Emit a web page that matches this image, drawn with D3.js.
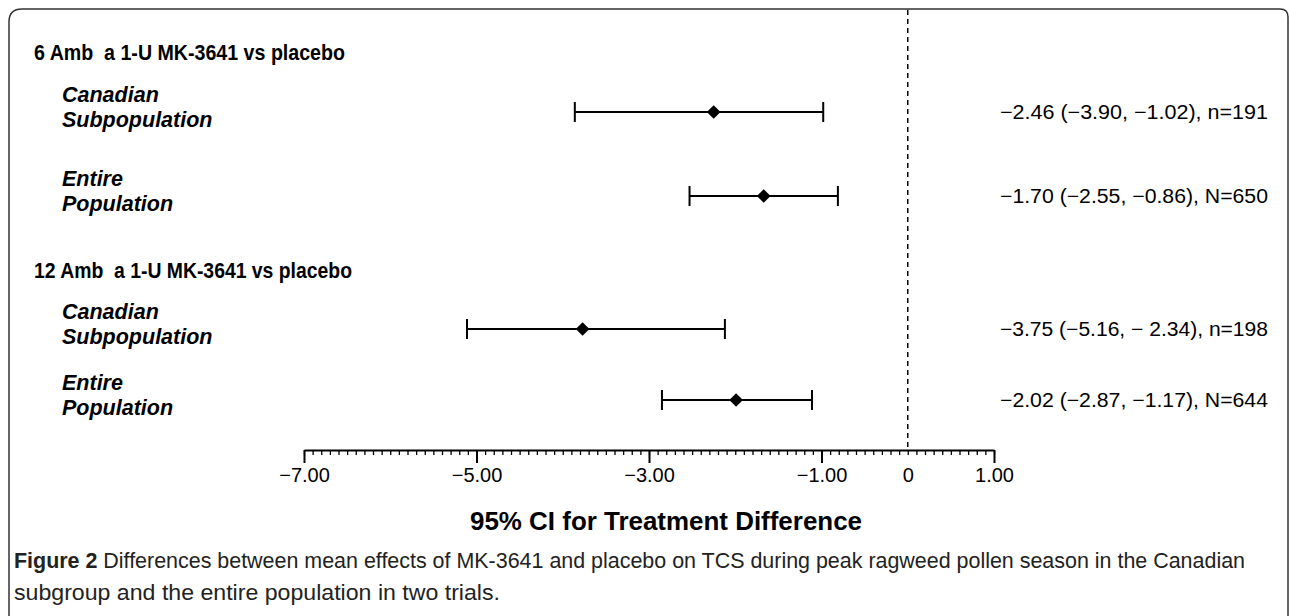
<!DOCTYPE html>
<html>
<head>
<meta charset="utf-8">
<script src="https://cdn.jsdelivr.net/npm/d3@7"></script>
<style>
    body { margin: 0; background: #fff; }
    svg { display: block; font-family: "Liberation Sans", Arial, sans-serif; }
</style>
</head>
<body>
<div id="chart"></div>
<script>
"use strict";

// group headings and rows
var groupTitles = ["6 Amb  a 1-U MK-3641 vs placebo", "12 Amb  a 1-U MK-3641 vs placebo"];
var rowGroups = [0, 0, 1, 1];
var rowNames = [["Canadian", "Subpopulation"], ["Entire", "Population"], ["Canadian", "Subpopulation"], ["Entire", "Population"]];

// plotted positions
var estimates = [-2.25, -1.67, -3.77, -1.99];
var lowers = [-3.86, -2.53, -5.11, -2.85];
var uppers = [-0.98, -0.81, -2.12, -1.11];

// printed result text at the right
var resultLabels = [
    "\u22122.46 (\u22123.90, \u22121.02), n=191",
    "\u22121.70 (\u22122.55, \u22120.86), N=650",
    "\u22123.75 (\u22125.16, \u2212 2.34), n=198",
    "\u22122.02 (\u22122.87, \u22121.17), N=644"
];

var majorTicks = [-7, -5, -3, -1, 1];
var labelTicks = [-7, -5, -3, -1, 0, 1];
var minorTicks = d3.range(-70, 11).map(function(d) { return d / 10; });

var width = 1290;
var height = 616;

var x = d3.scaleLinear().domain([-7, 1]).range([304, 994]);
var rowY = [112, 196, 329, 400];
var titleY = [60, 278];
var titleLen = [311, 318];
var axisY = 450;

var svg = d3.select("#chart")
    .append("svg")
    .attr("width", width)
    .attr("height", height);

// outer frame, open at the bottom
svg.append("path")
    .attr("d", "M9,640 L9,22 Q9,9 22,9 L1280,9 Q1288,9 1288,17 L1288,640")
    .attr("fill", "none")
    .attr("stroke", "#333")
    .attr("stroke-width", 1.5);

// reference line at zero
svg.append("line")
    .attr("x1", x(0)).attr("x2", x(0))
    .attr("y1", 10).attr("y2", axisY)
    .attr("stroke", "#000")
    .attr("stroke-width", 1.5)
    .attr("stroke-dasharray", "5,4");

// group titles
svg.selectAll(".gtitle")
    .data(groupTitles)
    .enter().append("text")
    .attr("class", "gtitle")
    .attr("x", 34)
    .attr("y", function(d, i) { return titleY[i]; })
    .attr("font-size", 22)
    .attr("font-weight", "bold")
    .attr("textLength", function(d, i) { return titleLen[i]; })
    .attr("lengthAdjust", "spacingAndGlyphs")
    .attr("xml:space", "preserve")
    .text(function(d) { return d; });

// row names
var names = svg.selectAll(".rname")
    .data(rowNames)
    .enter().append("text")
    .attr("class", "rname")
    .attr("font-size", 21.5)
    .attr("font-weight", "bold")
    .attr("font-style", "italic");

names.selectAll("tspan")
    .data(function(d, i) { return d.map(function(t, j) { return {t: t, row: i, line: j}; }); })
    .enter().append("tspan")
    .attr("x", 62)
    .attr("y", function(d) { return rowY[d.row] - 10 + d.line * 25; })
    .text(function(d) { return d.t; });

// confidence intervals
var ci = svg.selectAll(".ci")
    .data(estimates)
    .enter().append("g")
    .attr("class", "ci")
    .attr("transform", function(d, i) { return "translate(0," + rowY[i] + ")"; });

ci.append("line")
    .attr("x1", function(d, i) { return x(lowers[i]); })
    .attr("x2", function(d, i) { return x(uppers[i]); })
    .attr("stroke", "#000")
    .attr("stroke-width", 2);

ci.append("line")
    .attr("x1", function(d, i) { return x(lowers[i]); })
    .attr("x2", function(d, i) { return x(lowers[i]); })
    .attr("y1", -10).attr("y2", 10)
    .attr("stroke", "#000")
    .attr("stroke-width", 2);

ci.append("line")
    .attr("x1", function(d, i) { return x(uppers[i]); })
    .attr("x2", function(d, i) { return x(uppers[i]); })
    .attr("y1", -10).attr("y2", 10)
    .attr("stroke", "#000")
    .attr("stroke-width", 2);

ci.append("path")
    .attr("d", d3.symbol().type(d3.symbolDiamond2).size(120))
    .attr("transform", function(d) { return "translate(" + x(d) + ",0)"; })
    .attr("fill", "#000");

// result text
svg.selectAll(".result")
    .data(resultLabels)
    .enter().append("text")
    .attr("class", "result")
    .attr("x", 1000)
    .attr("y", function(d, i) { return rowY[i] + 7; })
    .attr("font-size", 20)
    .attr("textLength", 268)
    .attr("lengthAdjust", "spacingAndGlyphs")
    .attr("xml:space", "preserve")
    .text(function(d) { return d; });

// x axis: minor ticks, major ticks, labels
svg.append("g")
    .attr("transform", "translate(0," + axisY + ")")
    .call(d3.axisBottom(x).tickValues(minorTicks).tickSize(5).tickSizeOuter(0).tickFormat(""))
    .call(function(g) {
        g.selectAll("line").attr("stroke", "#000").attr("stroke-width", 1.3);
        g.select(".domain").attr("stroke", "#000").attr("stroke-width", 2);
    });

svg.append("g")
    .attr("transform", "translate(0," + axisY + ")")
    .call(d3.axisBottom(x).tickValues(majorTicks).tickSize(13).tickSizeOuter(0).tickFormat(""))
    .call(function(g) {
        g.select(".domain").remove();
        g.selectAll("line").attr("stroke", "#000").attr("stroke-width", 2);
    });

svg.append("g")
    .attr("transform", "translate(0," + axisY + ")")
    .call(d3.axisBottom(x).tickValues(labelTicks).tickSize(0).tickPadding(18)
        .tickFormat(function(d) { return d === 0 ? "0" : d3.format(".2f")(d); }))
    .call(function(g) {
        g.select(".domain").remove();
        g.selectAll("text")
            .attr("font-family", "Liberation Sans, Arial, sans-serif")
            .attr("font-size", 20)
            .attr("fill", "#000");
    });

svg.append("text")
    .attr("x", 666)
    .attr("y", 530)
    .attr("text-anchor", "middle")
    .attr("font-size", 26)
    .attr("font-weight", "bold")
    .attr("textLength", 392)
    .attr("lengthAdjust", "spacingAndGlyphs")
    .text("95% CI for Treatment Difference");

// caption
var cap1 = svg.append("text")
    .attr("x", 14)
    .attr("y", 568)
    .attr("font-family", "Liberation Sans, sans-serif")
    .attr("font-size", 22)
    .attr("fill", "#222")
    .attr("textLength", 1231)
    .attr("lengthAdjust", "spacingAndGlyphs");
cap1.append("tspan").attr("font-weight", "bold").text("Figure 2");
cap1.append("tspan").text(" Differences between mean effects of MK-3641 and placebo on TCS during peak ragweed pollen season in the Canadian");

svg.append("text")
    .attr("x", 14)
    .attr("y", 600)
    .attr("font-family", "Liberation Sans, sans-serif")
    .attr("font-size", 22)
    .attr("fill", "#222")
    .attr("textLength", 486)
    .attr("lengthAdjust", "spacingAndGlyphs")
    .text("subgroup and the entire population in two trials.");
</script>
</body>
</html>
